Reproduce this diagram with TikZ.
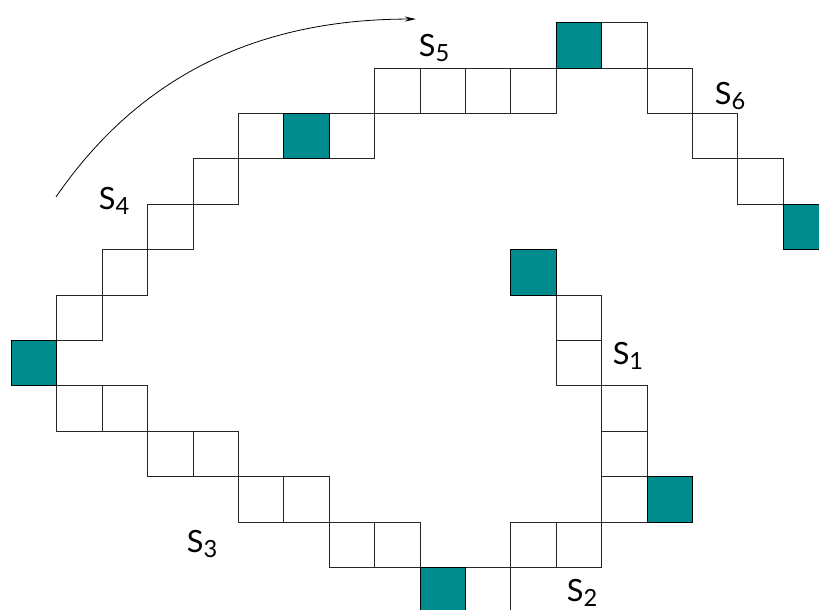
\documentclass[tikz,border=0pt]{standalone}
\usepackage{fontspec}
\setmainfont{Lato}
\usetikzlibrary{arrows.meta}
\definecolor{cellteal}{RGB}{0,140,140}
\newcommand{\slabel}[1]{S\raisebox{-3.1pt}{\fontsize{14.8}{15}\selectfont #1}}

\begin{document}
\begin{tikzpicture}[>={Stealth[length=7pt,width=3.2pt]}, line width=0.6pt,
	cell/.style = {draw=black!85},
	hit/.style = {draw=black, fill=cellteal},
	lbl/.style = {font=\fontsize{19.2}{20}\selectfont, inner sep=1pt}]
\useasboundingbox (-0.253,-12.936) rectangle (17.79,0.5);
\clip (-0.253,-12.936) rectangle (17.79,0.5);

% empty cells, column/row counted from the top left
\foreach \c/\r in {13/0, 8/1, 9/1, 10/1, 11/1, 14/1, 5/2, 7/2, 15/2, 4/3, 16/3,
	3/4, 2/5, 1/6, 12/6, 12/7, 1/8, 2/8, 13/8, 3/9, 4/9, 13/9,
	5/10, 6/10, 13/10, 7/11, 8/11, 11/11, 12/11, 10/12}
	\draw [cell] (\c, -\r)  rectangle ++(1, -1);

% filled cells
\foreach \c/\r in {12/0, 6/2, 17/4, 11/5, 0/7, 14/10, 9/12}
	\draw [hit] (\c, -\r)  rectangle ++(1, -1);

\node [lbl] (s1) at (13.58, -7.34) {\slabel{1}};
\node [lbl] (s2) at (12.57, -12.56) {\slabel{2}};
\node [lbl] (s3) at (4.20, -11.48) {\slabel{3}};
\node [lbl] (s4) at (2.26, -3.93) {\slabel{4}};
\node [lbl] (s5) at (9.31, -0.555) {\slabel{5}};
\node [lbl] (s6) at (15.83, -1.61) {\slabel{6}};

% sweep direction
\coordinate (from) at (0.98, -3.84);
\coordinate (to) at (8.91, 0.08);
\draw [->, line width=0.5pt] (from) .. controls (3.0, -0.9) and (5.8, 0.08) .. (to);
\end{tikzpicture}
\end{document}
